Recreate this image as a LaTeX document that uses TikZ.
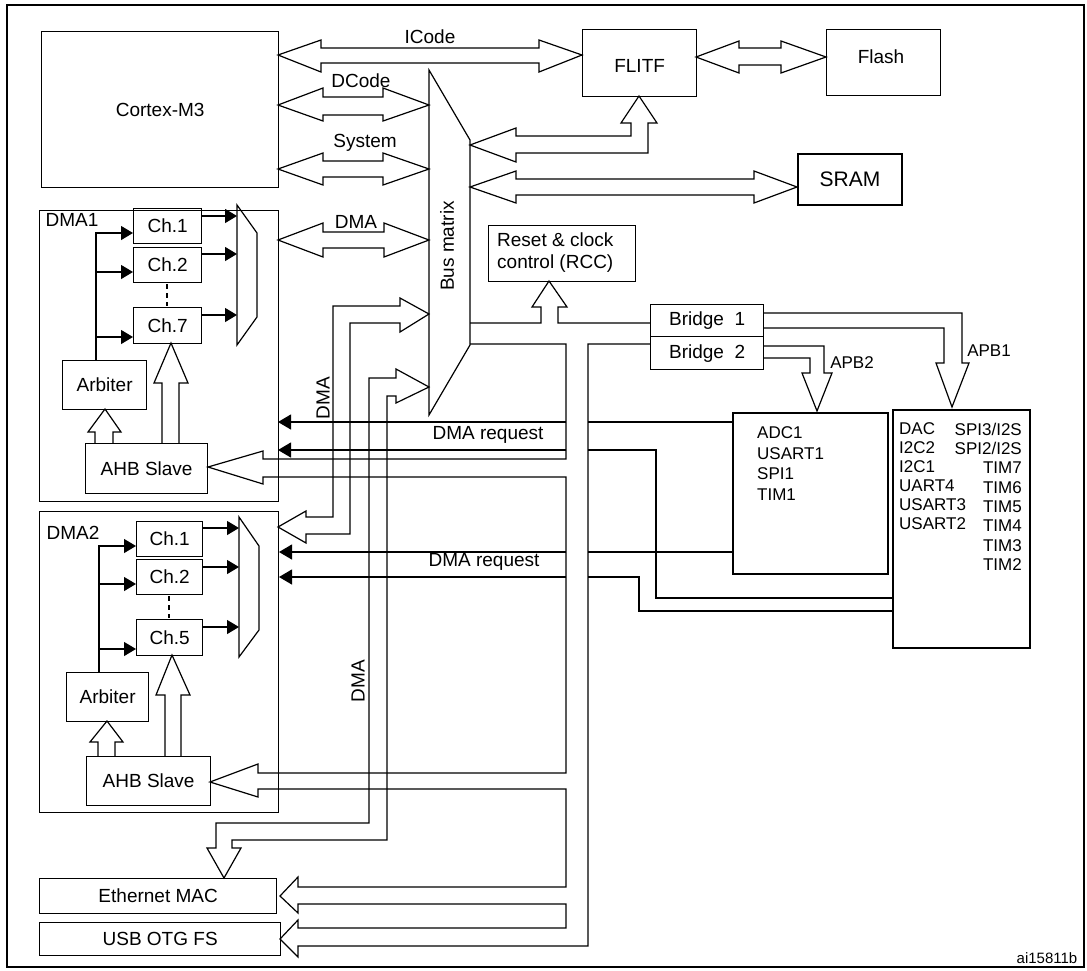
\documentclass[tikz,border=0pt]{standalone}
\usepackage{fontspec}
\setmainfont{Liberation Sans}
\usetikzlibrary{arrows.meta}
\begin{document}
\begin{tikzpicture}[x=1pt,y=-1pt,
  box/.style={draw,line width=1.3pt,rectangle,inner sep=0pt,anchor=north west},
  thick box/.style={box,line width=2pt},
  txt/.style={inner sep=0pt,font=\fontsize{19}{22}\selectfont},
  stxt/.style={inner sep=0pt,font=\fontsize{17}{20}\selectfont},
  bus/.style={draw,line width=1.2pt,line join=miter},
  wire/.style={draw,line width=1.2pt},
  req/.style={wire,-{Triangle[length=13pt,width=15pt]}},
  ch/.style={wire,-{Triangle[length=12pt,width=14pt]}}]
\useasboundingbox (0,0) rectangle (1087,970);
\draw[line width=1.5pt] (7,5) rectangle (1084,967);
% boxes
\node[box,minimum width=237,minimum height=156] (cm3) at (41,31) {};
\node[txt] at (cm3.center) {Cortex-M3};
\node[box,minimum width=114,minimum height=67] (flitf) at (582,29) {};
\node[txt] at ([yshift=-3]flitf.center) {FLITF};
\node[box,minimum width=114,minimum height=66] (flash) at (826,29) {};
\node[txt] at (881,57) {Flash};
\node[thick box,minimum width=104,minimum height=51] (sram) at (797,153) {};
\node[txt,font=\fontsize{21}{24}\selectfont] at (sram.center) {SRAM};
\node[box,minimum width=147,minimum height=56] (rcc) at (488,225) {};
\node[txt,align=left,anchor=west] at (497,253) {Reset \& clock\\control (RCC)};
\node[box,minimum width=113,minimum height=32] (br1) at (650,304) {};
\node[txt] at (br1.center) {Bridge\ \ 1};
\node[box,minimum width=113,minimum height=33] (br2) at (650,336) {};
\node[txt] at (br2.center) {Bridge\ \ 2};
\node[thick box,minimum width=155,minimum height=161] (apb2) at (732,412) {};
\node[thick box,minimum width=137,minimum height=238] (apb1) at (892,409) {};
\foreach \t [count=\i] in {ADC1,USART1,SPI1,TIM1}
  \node[stxt,anchor=west] at (757,{433+20.5*(\i-1)}) {\t};
\foreach \t [count=\i] in {DAC,I2C2,I2C1,UART4,USART3,USART2}
  \node[stxt,anchor=west] at (899,{429+19*(\i-1)}) {\t};
\foreach \t [count=\i] in {SPI3/I2S,SPI2/I2S,TIM7,TIM6,TIM5,TIM4,TIM3,TIM2}
  \node[stxt,anchor=east] at (1022,{429+19.4*(\i-1)}) {\t};
\node[stxt] at (852,363) {APB2};
\node[stxt] at (989,351) {APB1};
\node[box,minimum width=237,minimum height=35] (eth) at (39,878) {};
\node[txt] at (eth.center) {Ethernet MAC};
\node[box,minimum width=241,minimum height=33] (usb) at (39,922) {};
\node[txt] at (usb.center) {USB OTG FS};
\node[inner sep=0pt,font=\fontsize{15}{18}\selectfont] at (1047,958) {ai15811b};
% bus matrix
\draw[line width=1.2pt] (429,70) -- (470,140) -- (470,345) -- (429,415) -- cycle;
\node[txt,rotate=90] at (447,246) {Bus matrix};
% DMA1
\node[box,minimum width=239,minimum height=291] (dma1) at (39,210) {};
\node[txt] at (72,220) {DMA1};
\node[box,minimum width=68,minimum height=35] (d1c1) at (133,208) {}; \node[txt] at (d1c1.center) {Ch.1};
\node[box,minimum width=68,minimum height=35] (d1c2) at (133,247) {}; \node[txt] at (d1c2.center) {Ch.2};
\node[box,minimum width=68,minimum height=36] (d1c7) at (133,307) {}; \node[txt] at (d1c7.center) {Ch.7};
\draw[line width=1.2pt,dash pattern=on 5pt off 4pt] (167,284) -- (167,306);
\draw[line width=1.2pt] (237,205) -- (257,233) -- (257,317) -- (237,345) -- cycle;
\draw[ch] (201,216) -- (237,216); \draw[ch] (201,254) -- (237,254); \draw[ch] (201,315) -- (237,315);
\node[box,minimum width=84,minimum height=49] (d1arb) at (62,360) {}; \node[txt] at (d1arb.center) {Arbiter};
\node[box,minimum width=122,minimum height=50] (d1ahb) at (85,443) {}; \node[txt] at (d1ahb.center) {AHB Slave};
\draw[ch] (96,360) -- (96,233) -- (133,233); \draw[ch] (96,272) -- (133,272); \draw[ch] (96,337) -- (133,337);
\draw[bus] (95,443) -- (95,432) -- (88,432) -- (105,409) -- (121,432) -- (113,432) -- (113,443);
\draw[bus] (162,443) -- (162,383) -- (154,383) -- (171,343) -- (188,383) -- (179,383) -- (179,443);
% DMA2
\node[box,minimum width=239,minimum height=301] (dma2) at (39,511) {};
\node[txt] at (73,533) {DMA2};
\node[box,minimum width=66,minimum height=35] (d2c1) at (136,521) {}; \node[txt] at (d2c1.center) {Ch.1};
\node[box,minimum width=66,minimum height=35] (d2c2) at (136,559) {}; \node[txt] at (d2c2.center) {Ch.2};
\node[box,minimum width=66,minimum height=36] (d2c5) at (136,619) {}; \node[txt] at (d2c5.center) {Ch.5};
\draw[line width=1.2pt,dash pattern=on 5pt off 4pt] (169,596) -- (169,618);
\draw[line width=1.2pt] (239,517) -- (259,546) -- (259,630) -- (239,657) -- cycle;
\draw[ch] (202,528) -- (239,528); \draw[ch] (202,567) -- (239,567); \draw[ch] (202,627) -- (239,627);
\node[box,minimum width=82,minimum height=49] (d2arb) at (66,672) {}; \node[txt] at (d2arb.center) {Arbiter};
\node[box,minimum width=124,minimum height=49] (d2ahb) at (86,756) {}; \node[txt] at (d2ahb.center) {AHB Slave};
\draw[ch] (99,672) -- (99,546) -- (136,546); \draw[ch] (99,584) -- (136,584); \draw[ch] (99,649) -- (136,649);
\draw[bus] (98,756) -- (98,742) -- (90,742) -- (107,721) -- (123,742) -- (115,742) -- (115,756);
\draw[bus] (165,756) -- (165,695) -- (156,695) -- (172,655) -- (190,695) -- (181,695) -- (181,756);
% top buses
\draw[bus] (278,55) -- (321,40) -- (321,48) -- (539,48) -- (539,40) -- (582,55) -- (539,72) -- (539,63) -- (321,63) -- (321,72) -- cycle;
\node[txt] at (430,37) {ICode};
\draw[bus] (278,105) -- (323,88) -- (323,97) -- (383,97) -- (383,88) -- (429,105) -- (383,121) -- (383,115) -- (323,115) -- (323,121) -- cycle;
\node[txt] at (361,81) {DCode};
\draw[bus] (278,169) -- (323,153) -- (323,161) -- (383,161) -- (383,153) -- (429,169) -- (383,185) -- (383,177) -- (323,177) -- (323,185) -- cycle;
\node[txt] at (365,143) {System};
\draw[bus] (278,240) -- (323,223) -- (323,232) -- (384,232) -- (384,223) -- (429,240) -- (384,257) -- (384,248) -- (323,248) -- (323,257) -- cycle;
\node[txt] at (356,222) {DMA};
\draw[bus] (696,57) -- (739,41) -- (739,48) -- (781,48) -- (781,41) -- (826,57) -- (781,73) -- (781,65) -- (739,65) -- (739,73) -- cycle;
\draw[bus] (470,145) -- (516,128) -- (516,136) -- (631,136) -- (631,123) -- (621,123) -- (639,96) -- (657,123) -- (648,123) -- (648,153) -- (516,153) -- (516,162) -- cycle;
\draw[bus] (470,187) -- (516,171) -- (516,179) -- (754,179) -- (754,171) -- (797,187) -- (754,203) -- (754,195) -- (516,195) -- (516,203) -- cycle;
% RCC / bridges / APB
\draw[bus] (470,323) -- (541,323) -- (541,307) -- (532,307) -- (549,281) -- (567,307) -- (558,307) -- (558,323) -- (650,323);
\draw[bus] (763,346) -- (824,346) -- (824,373) -- (832,373) -- (817,411) -- (802,373) -- (810,373) -- (810,358) -- (763,358);
\draw[bus] (763,313) -- (962,313) -- (962,363) -- (969,363) -- (952,407) -- (936,363) -- (944,363) -- (944,328) -- (763,328);
% AHB bus
\draw[bus] (470,344) -- (566,344) -- (566,459) -- (263,459) -- (263,451) -- (208,467) -- (263,484) -- (263,477) -- (566,477)
  -- (566,773) -- (258,773) -- (258,764) -- (210,782) -- (258,797) -- (258,789) -- (566,789)
  -- (566,887) -- (298,887) -- (298,877) -- (280,896) -- (298,913) -- (298,904) -- (566,904)
  -- (566,928) -- (298,928) -- (298,920) -- (280,939) -- (298,957) -- (298,946) -- (588,946) -- (588,344) -- (650,344);
% DMA buses
\draw[bus] (429,314) -- (400,298) -- (400,306) -- (333,306) -- (333,517) -- (306,517) -- (306,511) -- (278,527) -- (306,543) -- (306,534) -- (350,534) -- (350,323) -- (400,323) -- (400,332) -- cycle;
\node[txt,rotate=90] at (323,398) {DMA};
\draw[bus] (429,387) -- (396,369) -- (396,378) -- (369,378) -- (369,823) -- (216,823) -- (216,848) -- (207,848) -- (224,878) -- (241,848) -- (232,848) -- (232,840) -- (387,840) -- (387,396) -- (396,396) -- (396,403) -- cycle;
\node[txt,rotate=90] at (358,681) {DMA};
% DMA requests
\draw[wire] (732,422) -- (588,422); \draw[req] (566,422) -- (278,422);
\draw[wire] (892,598) -- (656,598) -- (656,450) -- (588,450); \draw[req] (566,450) -- (278,450);
\node[txt] at (488,435) {DMA request};
\draw[wire] (732,552) -- (588,552); \draw[req] (566,552) -- (279,552);
\draw[wire] (892,611) -- (639,611) -- (639,577) -- (588,577); \draw[req] (566,577) -- (279,577);
\node[txt] at (484,562) {DMA request};
\end{tikzpicture}
\end{document}
